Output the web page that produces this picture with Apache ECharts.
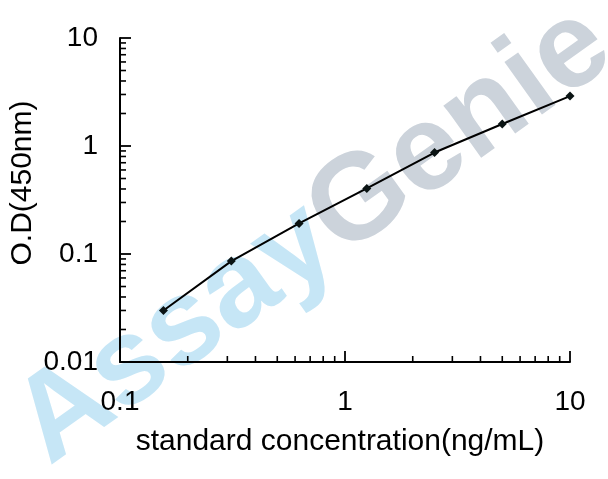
<!DOCTYPE html>
<html>
<head>
<meta charset="utf-8">
<script src="https://cdn.jsdelivr.net/npm/echarts@6/dist/echarts.min.js"></script>
<style>
html,body{margin:0;padding:0;background:#fff;}
#chart{width:608px;height:479px;}
</style>
</head>
<body>
<div id="chart"></div>
<script>
// Data
var concentrations = [0.156, 0.3125, 0.625, 1.25, 2.5, 5, 10];
var odValues = [0.030, 0.086, 0.192, 0.405, 0.87, 1.60, 2.90];
var xMinorTicks = [0.2,0.3,0.4,0.5,0.6,0.7,0.8,0.9,2,3,4,5,6,7,8,9];
var yMinorTicks = [0.02,0.03,0.04,0.05,0.06,0.07,0.08,0.09,0.2,0.3,0.4,0.5,0.6,0.7,0.8,0.9,2,3,4,5,6,7,8,9];
var xRange = [0.1, 10];
var yRange = [0.01, 10];

var font = 'Arial, "Liberation Sans", sans-serif';
var chart = echarts.init(document.getElementById('chart'));

var seriesData = concentrations.map(function (c, i) { return [c, odValues[i]]; });
var minorData = xMinorTicks.map(function (v) { return [v, yRange[0], 'x']; })
  .concat(yMinorTicks.map(function (v) { return [xRange[0], v, 'y']; }));

function fmt(v) { return String(parseFloat(Number(v).toPrecision(6))); }

chart.setOption({
  animation: false,
  backgroundColor: '#fff',
  graphic: [{
    type: 'text',
    x: 314, y: 236,
    rotation: 0.62,
    z: 0,
    silent: true,
    style: {
      text: '{a|Assay}{g|Genie}',
      align: 'center',
      verticalAlign: 'middle',
      rich: {
        a: { fill: '#c6e6f6', fontSize: 122, fontWeight: 'bold', fontFamily: font },
        g: { fill: '#ccd3db', fontSize: 122, fontWeight: 'bold', fontFamily: font }
      }
    }
  }],
  grid: { left: 120, right: 38, top: 38, bottom: 117, containLabel: false, outerBoundsMode: 'none' },
  xAxis: {
    type: 'log', logBase: 10, min: xRange[0], max: xRange[1],
    name: 'standard concentration(ng/mL)',
    nameLocation: 'middle', nameGap: 65, nameMoveOverlap: false,
    nameTextStyle: { fontSize: 30, color: '#000', fontFamily: font, padding: [0, 10, 0, 0] },
    axisLine: { show: true, lineStyle: { color: '#000', width: 2 } },
    axisTick: { show: true, inside: true, length: 11, lineStyle: { color: '#000', width: 1.8 } },
    axisLabel: { fontSize: 28, color: '#000', fontFamily: font, margin: 26, formatter: fmt },
    splitLine: { show: false },
    minorTick: { show: false }
  },
  yAxis: {
    type: 'log', logBase: 10, min: yRange[0], max: yRange[1],
    name: 'O.D(450nm)',
    nameLocation: 'middle', nameGap: 82, nameRotate: 90, nameMoveOverlap: false,
    nameTextStyle: { fontSize: 30, color: '#000', fontFamily: font, padding: [0, 0, 0, 34] },
    axisLine: { show: true, lineStyle: { color: '#000', width: 2 } },
    axisTick: { show: true, inside: true, length: 11, lineStyle: { color: '#000', width: 1.8 } },
    axisLabel: { fontSize: 28, color: '#000', fontFamily: font, margin: 22, formatter: fmt },
    splitLine: { show: false },
    minorTick: { show: false }
  },
  series: [{
    type: 'custom',
    silent: true,
    clip: false,
    z: 3,
    data: minorData,
    renderItem: function (params, api) {
      var p = api.coord([api.value(0), api.value(1)]);
      var isX = minorData[params.dataIndex][2] === 'x';
      var shape = isX
        ? { x1: p[0], y1: p[1], x2: p[0], y2: p[1] - 6 }
        : { x1: p[0], y1: p[1], x2: p[0] + 6, y2: p[1] };
      return { type: 'line', shape: shape, style: { stroke: '#000', lineWidth: 1.6 } };
    }
  }, {
    type: 'line',
    data: seriesData,
    z: 5,
    symbol: 'diamond',
    symbolSize: 9,
    smooth: false,
    lineStyle: { color: '#000', width: 2 },
    itemStyle: { color: '#0b1414' }
  }]
});
</script>
</body>
</html>
